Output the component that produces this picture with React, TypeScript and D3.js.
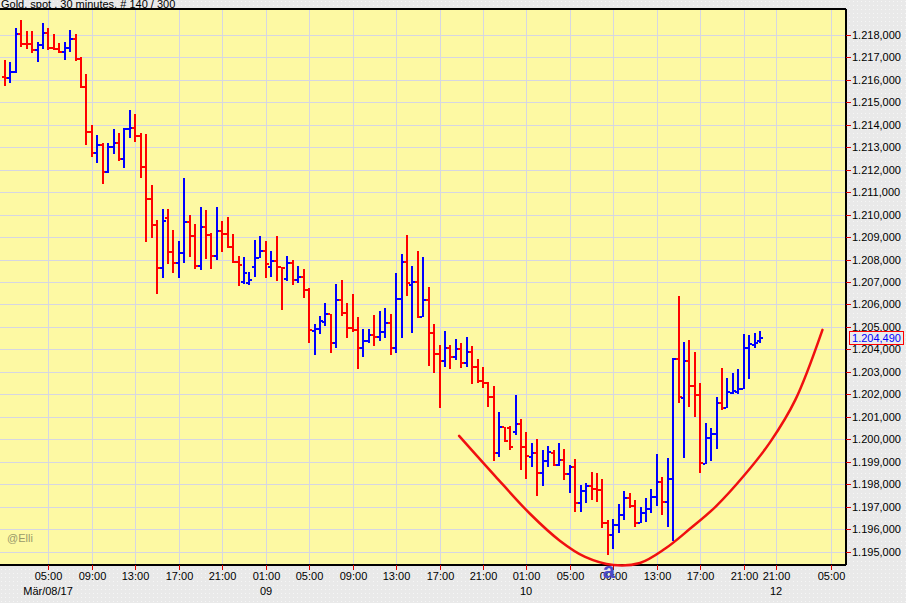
import * as d3 from "d3";

// 30 minute bars, index 0 = Mar 08 01:00
const opens = [
  1216.14, 1216.09, 1216.34, 1218.03, 1217.6, 1217.58, 1217.33, 1217.55, 1218.08, 1217.41,
  1217.37, 1217.23, 1217.43, 1217.82, 1216.92, 1215.7, 1213.69, 1212.73, 1213.1, 1211.89,
  1213.03, 1213.18, 1212.47, 1213.81, 1213.87, 1213.5, 1212.14, 1210.68, 1209.54, 1207.61,
  1209.84, 1208.35, 1207.84, 1208.31, 1209.69, 1209.06, 1207.72, 1209.46, 1209.1, 1208.17,
  1209.27, 1209.13, 1208.57, 1207.91, 1207.0, 1206.95, 1207.68, 1208.08, 1208.4, 1207.68,
  1207.94, 1207.68, 1207.12, 1207.86, 1207.09, 1207.24, 1206.65, 1204.8, 1204.9, 1205.24,
  1205.56, 1204.27, 1206.2, 1205.61, 1204.94, 1204.88, 1204.08, 1204.39, 1204.64, 1204.54,
  1204.79, 1205.19, 1204.08, 1206.23, 1207.91, 1206.87, 1207.02, 1205.46, 1206.2, 1204.75,
  1203.78, 1203.5, 1204.05, 1203.68, 1204.01, 1203.41, 1203.87, 1203.2, 1202.59, 1202.52,
  1201.87, 1199.4, 1200.53, 1200.5, 1200.3, 1200.68, 1199.67, 1199.23, 1199.38, 1198.49,
  1199.05, 1199.4, 1198.85, 1199.08, 1198.45, 1198.75, 1197.18, 1197.7, 1197.92, 1197.77,
  1197.75, 1196.26, 1195.74, 1196.18, 1196.63, 1197.37, 1197.03, 1196.29, 1196.7, 1196.88,
  1197.44, 1198.11, 1197.22, 1198.23, 1203.56, 1201.82, 1203.49, 1202.37, 1201.97, 1198.9,
  1200.04, 1200.22, 1201.6, 1201.41, 1202.05, 1202.1, 1202.23, 1204.05, 1204.2, 1204.36,
];
const highs = [
  1216.89, 1216.81, 1218.3, 1218.67, 1218.18, 1218.18, 1217.67, 1218.52, 1218.3, 1218.03,
  1217.63, 1217.7, 1218.22, 1218.03, 1217.03, 1216.26, 1213.99, 1213.55, 1213.18, 1213.2,
  1213.81, 1213.65, 1213.85, 1214.66, 1214.48, 1213.62, 1213.58, 1211.32, 1209.76, 1210.25,
  1210.25, 1209.32, 1208.84, 1211.62, 1209.99, 1209.59, 1210.33, 1210.21, 1209.17, 1210.33,
  1209.73, 1209.91, 1209.14, 1208.16, 1208.1, 1207.43, 1208.87, 1209.05, 1208.83, 1208.38,
  1209.05, 1207.68, 1208.16, 1207.98, 1207.72, 1207.57, 1206.72, 1205.13, 1205.49, 1206.05,
  1205.56, 1206.91, 1207.09, 1206.08, 1206.47, 1205.43, 1204.9, 1204.9, 1205.53, 1205.71,
  1205.83, 1205.56, 1207.39, 1208.25, 1209.1, 1207.72, 1208.38, 1208.13, 1206.79, 1205.12,
  1204.2, 1204.82, 1204.2, 1204.45, 1204.3, 1204.57, 1204.15, 1203.56, 1203.23, 1202.56,
  1202.37, 1201.2, 1200.56, 1200.59, 1201.97, 1200.89, 1200.31, 1199.85, 1200.0, 1199.52,
  1199.7, 1199.52, 1199.85, 1199.57, 1198.85, 1199.11, 1197.96, 1198.04, 1198.56, 1198.49,
  1198.22, 1196.41, 1196.44, 1197.1, 1197.7, 1197.59, 1197.3, 1197.0, 1197.37, 1197.77,
  1199.34, 1198.31, 1199.15, 1203.61, 1206.38, 1204.34, 1204.42, 1203.9, 1202.49, 1200.71,
  1200.49, 1201.87, 1203.16, 1202.74, 1202.94, 1203.12, 1204.69, 1204.64, 1204.72, 1204.82,
];
const lows = [
  1215.73, 1215.88, 1216.29, 1217.48, 1217.36, 1217.19, 1216.81, 1217.36, 1217.33, 1217.33,
  1217.19, 1216.89, 1217.26, 1216.84, 1215.63, 1213.1, 1212.58, 1212.31, 1211.37, 1211.87,
  1212.7, 1212.4, 1212.07, 1213.4, 1213.25, 1211.62, 1208.8, 1208.95, 1206.47, 1207.19,
  1207.8, 1207.39, 1207.17, 1207.86, 1208.13, 1207.57, 1207.54, 1208.01, 1207.57, 1207.98,
  1208.35, 1208.5, 1207.86, 1206.82, 1206.91, 1206.87, 1207.21, 1208.08, 1207.17, 1207.24,
  1207.05, 1205.76, 1207.06, 1206.87, 1206.94, 1206.28, 1204.27, 1203.75, 1204.67, 1205.04,
  1203.83, 1204.08, 1205.49, 1204.52, 1204.79, 1203.13, 1203.68, 1204.27, 1204.15, 1204.39,
  1204.5, 1203.75, 1203.86, 1204.5, 1206.38, 1204.75, 1205.41, 1205.46, 1203.28, 1202.94,
  1201.38, 1203.23, 1203.12, 1203.53, 1203.16, 1203.23, 1202.46, 1202.49, 1202.27, 1201.45,
  1199.05, 1199.22, 1199.89, 1199.52, 1200.19, 1198.63, 1198.22, 1198.75, 1197.47, 1197.92,
  1198.78, 1198.81, 1198.81, 1198.19, 1197.62, 1196.78, 1196.78, 1197.18, 1197.3, 1197.22,
  1196.04, 1194.85, 1195.1, 1195.81, 1196.41, 1196.93, 1196.08, 1196.26, 1196.33, 1196.7,
  1197.03, 1196.63, 1196.11, 1195.47, 1201.6, 1199.18, 1201.45, 1200.98, 1198.49, 1198.9,
  1199.05, 1199.55, 1201.3, 1201.41, 1202.0, 1202.0, 1202.23, 1202.67, 1204.05, 1204.27,
];
const closes = [
  1216.09, 1216.34, 1218.03, 1217.6, 1217.58, 1217.33, 1217.55, 1218.08, 1217.41, 1217.37,
  1217.23, 1217.43, 1217.82, 1216.92, 1215.7, 1213.69, 1212.73, 1213.1, 1211.89, 1213.03,
  1213.18, 1212.47, 1213.81, 1213.87, 1213.5, 1212.14, 1210.68, 1209.54, 1207.61, 1209.73,
  1208.35, 1207.84, 1208.31, 1209.69, 1209.06, 1207.72, 1209.46, 1209.1, 1208.17, 1209.27,
  1209.13, 1208.57, 1207.91, 1207.76, 1207.39, 1207.09, 1208.08, 1208.4, 1207.79, 1207.94,
  1207.68, 1207.61, 1207.86, 1207.09, 1207.24, 1206.65, 1204.87, 1204.9, 1205.28, 1205.56,
  1204.27, 1206.2, 1205.61, 1204.94, 1204.88, 1204.08, 1204.39, 1204.64, 1204.54, 1204.79,
  1205.19, 1204.08, 1206.23, 1207.91, 1206.94, 1207.02, 1205.46, 1206.2, 1204.75, 1203.78,
  1203.5, 1204.05, 1203.68, 1204.01, 1203.41, 1203.87, 1203.2, 1202.59, 1202.52, 1201.87,
  1199.4, 1200.53, 1199.94, 1199.67, 1200.68, 1199.67, 1199.26, 1199.38, 1198.49, 1199.05,
  1199.45, 1198.85, 1199.08, 1198.45, 1198.75, 1197.18, 1197.7, 1197.92, 1197.77, 1197.75,
  1196.26, 1195.74, 1196.18, 1196.63, 1197.37, 1197.03, 1196.29, 1196.7, 1196.88, 1197.44,
  1198.11, 1197.22, 1198.23, 1203.56, 1201.87, 1203.49, 1202.37, 1201.97, 1198.93, 1200.04,
  1200.22, 1201.6, 1201.41, 1202.12, 1202.15, 1202.23, 1204.05, 1204.24, 1204.27, 1204.49,
];

// time axis (bar index -> label)
const timeTickIdx = [8, 16, 24, 32, 40, 48, 56, 64, 72, 80, 88, 96, 104, 112, 120, 128, 136, 142, 152];
const timeTickLabels = [
  "05:00", "09:00", "13:00", "17:00", "21:00", "01:00", "05:00", "09:00", "13:00", "17:00",
  "21:00", "01:00", "05:00", "09:00", "13:00", "17:00", "21:00", "21:00", "05:00",
];
const dateIdx = [8, 48, 96, 142];
const dateLabels = ["Mär/08/17", "09", "10", "12"];

const priceTicks = d3.range(1195, 1219, 1);

// hand drawn arc (bar index, price)
const arcIdx = [83.6, 90.2, 96.7, 102.2, 106.8, 112.0, 116.9, 121.5, 126.1, 130.8, 136.3, 140.9, 145.5, 150.5];
const arcPrice = [
  1200.15, 1198.37, 1196.67, 1195.47, 1194.76, 1194.4, 1194.49, 1195.12, 1196.01, 1196.99,
  1198.45, 1199.88, 1201.75, 1204.87,
];

const waveLabel = { idx: 111, text: "a" };

const FONT = "'Liberation Sans', Arial, sans-serif";

export default function App() {
  const width = 906;
  const height = 603;
  const plot = { left: 0, top: 9, right: 846, bottom: 565 };

  const x = d3.scaleLinear().domain([0, 139]).range([5, 760]);
  const y = d3.scaleLinear().domain([1195, 1218]).range([551.5, 35]);

  const fmt = d3
    .formatLocale({ decimal: ",", thousands: ".", grouping: [3], currency: ["", ""] })
    .format(",.3f");

  const arcLine = d3
    .line<number>()
    .x((_, i) => x(arcIdx[i]))
    .y((d) => y(d))
    .curve(d3.curveCatmullRom);

  const last = closes[closes.length - 1];
  const lastY = Math.round(y(last));

  return (
    <svg
      width={width}
      height={height}
      style={{ position: "absolute", left: 0, top: 0, display: "block" }}
      fontFamily={FONT}
    >
      <defs>
        <pattern id="dots" width={4} height={4} patternUnits="userSpaceOnUse">
          <rect width={4} height={4} fill="#e9e9e9" />
          <rect x={1} y={1} width={1} height={1} fill="#f6f6f6" />
        </pattern>
      </defs>
      <rect x={0} y={0} width={width} height={height} fill="url(#dots)" />
      <rect
        x={plot.left}
        y={plot.top}
        width={plot.right - plot.left}
        height={plot.bottom - plot.top}
        fill="#fdf9a3"
      />

      {/* grid */}
      <g stroke="#d6d6e2" strokeWidth={1} shapeRendering="crispEdges">
        {priceTicks.map((p) => (
          <line key={"h" + p} x1={plot.left} x2={plot.right} y1={Math.round(y(p)) + 0.5} y2={Math.round(y(p)) + 0.5} />
        ))}
        {timeTickIdx.map((t, i) => (
          <line key={"v" + i} x1={Math.round(x(t)) + 0.5} x2={Math.round(x(t)) + 0.5} y1={plot.top} y2={plot.bottom} />
        ))}
      </g>

      {/* plot frame */}
      <g stroke="#000" strokeWidth={1.5} fill="none" shapeRendering="crispEdges">
        <line x1={0} x2={plot.right} y1={plot.top} y2={plot.top} />
        <line x1={plot.right} x2={plot.right} y1={plot.top} y2={plot.bottom} />
        <line x1={0} x2={plot.right} y1={plot.bottom} y2={plot.bottom} />
      </g>

      {/* OHLC bars: left tick = open, right tick = close */}
      <g shapeRendering="crispEdges">
        {closes.map((c, i) => {
          const xi = Math.round(x(i));
          const col = c >= opens[i] ? "#0000ff" : "#ff0000";
          const yh = Math.round(y(highs[i]));
          const yl = Math.round(y(lows[i]));
          const yo = Math.round(y(opens[i]));
          const yc = Math.round(y(c));
          return (
            <g key={i} fill={col}>
              <rect x={xi - 1} y={yh} width={2} height={Math.max(1, yl - yh)} />
              <rect x={xi - 3} y={yo - 1} width={2} height={2} />
              <rect x={xi + 1} y={yc - 1} width={2} height={2} />
            </g>
          );
        })}
      </g>

      {/* arc */}
      <path d={arcLine(arcPrice) ?? ""} fill="none" stroke="#f01010" strokeWidth={2.5} strokeLinecap="round" />

      {/* right price axis */}
      <g>
        {priceTicks.map((p) => {
          const yy = Math.round(y(p)) + 0.5;
          return (
            <g key={"py" + p}>
              <line x1={plot.right} x2={plot.right + 5} y1={yy} y2={yy} stroke="#e00000" strokeWidth={1} />
              <text x={plot.right + 6} y={yy} dy="0.36em" fontSize={11} fill="#000">
                {fmt(p)}
              </text>
            </g>
          );
        })}
      </g>

      {/* last price marker */}
      <rect x={849.5} y={lastY - 6.5} width={54} height={13} fill="#ebebeb" stroke="#ff0000" strokeWidth={1} />
      <text x={876.5} y={lastY} dy="0.36em" fontSize={11} fill="#0000ff" textAnchor="middle">
        {fmt(last)}
      </text>

      {/* bottom time axis */}
      <g>
        {timeTickIdx.map((t, i) => {
          const xx = Math.round(x(t)) + 0.5;
          return (
            <g key={"tx" + i}>
              <line x1={xx} x2={xx} y1={plot.bottom} y2={plot.bottom + 5} stroke="#e00000" strokeWidth={1} />
              <text x={xx} y={580} fontSize={11} textAnchor="middle" fill="#000">
                {timeTickLabels[i]}
              </text>
            </g>
          );
        })}
        {dateIdx.map((t, i) => (
          <text key={"d" + i} x={Math.round(x(t))} y={595} fontSize={11} textAnchor="middle" fill="#000">
            {dateLabels[i]}
          </text>
        ))}
      </g>

      {/* wave label */}
      <text
        x={x(waveLabel.idx) + 1}
        y={578}
        fontSize={22}
        fontWeight="bold"
        textAnchor="middle"
        fill="#4a4ac8"
      >
        {waveLabel.text}
      </text>

      {/* title and watermark */}
      <text x={1} y={8} fontSize={11} fill="#000">
        Gold, spot , 30 minutes, # 140 / 300
      </text>
      <text x={7} y={542} fontSize={11} fill="#9a9a6a">
        @Elli
      </text>
    </svg>
  );
}
